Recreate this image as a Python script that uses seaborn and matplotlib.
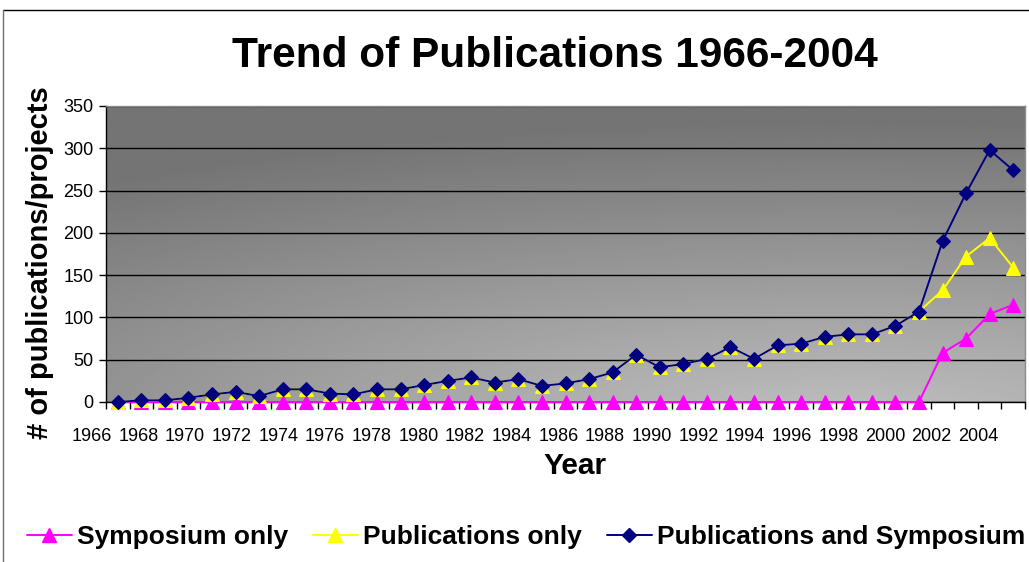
import numpy as np
import pandas as pd
import matplotlib
matplotlib.use("Agg")
import matplotlib.pyplot as plt
import seaborn as sns
from matplotlib.lines import Line2D
from matplotlib.transforms import blended_transform_factory

# ---------------- data ----------------
years = [1966, 1967, 1968, 1969, 1970, 1971, 1972, 1973, 1974, 1975,
         1976, 1977, 1978, 1979, 1980, 1981, 1982, 1983, 1984, 1985,
         1986, 1987, 1988, 1989, 1990, 1991, 1992, 1993, 1994, 1995,
         1996, 1997, 1998, 1999, 2000, 2001, 2002, 2003, 2004]

symposium_only = [0, 0, 0, 0, 0, 0, 0, 0, 0, 0,
                  0, 0, 0, 0, 0, 0, 0, 0, 0, 0,
                  0, 0, 0, 0, 0, 0, 0, 0, 0, 0,
                  0, 0, 0, 0, 0, 58, 75, 104, 115]

publications_only = [0, 2, 2, 5, 9, 12, 7, 15, 15, 10,
                     9, 15, 15, 20, 25, 29, 23, 27, 19, 22,
                     27, 35, 56, 41, 45, 51, 65, 51, 67, 69,
                     77, 80, 80, 90, 107, 132, 172, 194, 159]

pubs_and_symposium = [0, 2, 2, 5, 9, 12, 7, 15, 15, 10,
                      9, 15, 15, 20, 25, 29, 23, 27, 19, 22,
                      27, 35, 56, 41, 45, 51, 65, 51, 67, 69,
                      77, 80, 80, 90, 107, 190, 247, 298, 274]

tick_labels = ["1966", "1968", "1970", "1972", "1974", "1976", "1978",
               "1980", "1982", "1984", "1986", "1988", "1990", "1992",
               "1994", "1996", "1998", "2000", "2002", "2004"]

series_names = ["Symposium only", "Publications only",
                "Publications and Symposium"]
y_ticks = [0, 50, 100, 150, 200, 250, 300, 350]

# ---------------- style ----------------
sns.set_style("white")
plt.rcParams["font.family"] = ["Liberation Sans", "DejaVu Sans"]
plt.rcParams["text.color"] = "black"
plt.rcParams["axes.labelcolor"] = "black"
plt.rcParams["xtick.color"] = "black"
plt.rcParams["ytick.color"] = "black"

W, H = 1029, 562
fig = plt.figure(figsize=(W / 100, H / 100), dpi=100)
ax = fig.add_axes([106 / W, 1 - 402 / H, (1025 - 106) / W, (402 - 106) / H])

# gradient background of plot area
gx = np.linspace(0, 1, 300)
gy = np.linspace(1, 0, 200)
U, V = np.meshgrid(gx, gy)
r = np.sqrt(0.6 * (U - 0.8) ** 2 + (V + 0.1) ** 2)
grad = 0.76 - 0.29 * np.clip(r, 0, 1.05)
ax.imshow(grad, extent=[0, 1, 0, 1], transform=ax.transAxes, aspect="auto",
          cmap="gray", vmin=0, vmax=1, zorder=-10, interpolation="bilinear")

idx = list(range(len(years)))
df = pd.DataFrame({"idx": idx,
                   series_names[0]: symposium_only,
                   series_names[1]: publications_only,
                   series_names[2]: pubs_and_symposium})

colors = ["#FF00FF", "#FFFF00", "#000080"]
markers = ["^", "^", "D"]
msizes = [9.5, 9.5, 7.2]

for name, c, m, ms in zip(series_names, colors, markers, msizes):
    sns.lineplot(data=df, x="idx", y=name, color=c, marker=m, markersize=ms,
                 markeredgecolor=c, markeredgewidth=0.8, linewidth=1.4,
                 ax=ax, clip_on=False, zorder=3, legend=False)

ax.set_xlim(-0.5, len(years) - 0.5)
ax.set_ylim(0, 350)

# y axis
ax.set_yticks(y_ticks)
ax.set_yticklabels([str(v) for v in y_ticks])
ax.yaxis.grid(True, color="black", linewidth=1.0)
ax.set_axisbelow(True)
ax.tick_params(axis="y", direction="out", length=5, width=1, color="black",
               labelcolor="black", labelsize=13, pad=4, left=True)

# x axis: tick marks at category boundaries, labels as text
ax.set_xticks(np.arange(-0.5, len(years), 1.0))
ax.set_xticklabels([])
ax.tick_params(axis="x", direction="out", length=5, width=1, color="black",
               bottom=True)
ax.xaxis.grid(False)

label_start, label_step = -1.1, 1.98
trans = blended_transform_factory(ax.transData, ax.transAxes)
for k, lab in enumerate(tick_labels):
    ax.text(label_start + label_step * k, -0.118, lab, transform=trans,
            ha="center", va="center", fontsize=13, color="black", clip_on=False)

ax.set_xlabel("")
ax.set_ylabel("")

for s in ["left", "bottom"]:
    ax.spines[s].set_color("black")
    ax.spines[s].set_linewidth(1)
for s in ["top", "right"]:
    ax.spines[s].set_color("#8c8c8c")
    ax.spines[s].set_linewidth(1)

# titles / labels
fig.text(555 / W, 1 - 67 / H, "Trend of Publications 1966-2004",
         ha="center", va="baseline", fontsize=30.5, fontweight="bold",
         color="black")
fig.text(40 / W, 1 - 263 / H, "# of publications/projects", rotation=90,
         ha="center", va="center", fontsize=21, fontweight="bold",
         color="black")
fig.text(575 / W, 1 - 466 / H, "Year", ha="center", va="center",
         fontsize=21.5, fontweight="bold", color="black")

# legend
handles = [Line2D([0], [0], color=c, marker=m, markersize=ms,
                  markeredgecolor=c, linewidth=1.4)
           for c, m, ms in zip(colors, markers, msizes)]
leg = fig.legend(handles, series_names, loc="center", ncol=3,
                 bbox_to_anchor=(526 / W, 1 - 537 / H), frameon=False,
                 prop={"weight": "bold", "size": 19}, handlelength=1.7,
                 handletextpad=0.2, columnspacing=0.95)
for t in leg.get_texts():
    t.set_color("black")

# chart area border (top and left visible)
fig.add_artist(Line2D([3 / W, 1.0], [1 - 10 / H, 1 - 10 / H],
                      transform=fig.transFigure, color="black", linewidth=1))
fig.add_artist(Line2D([3 / W, 3 / W], [0, 1 - 10 / H],
                      transform=fig.transFigure, color="#707070", linewidth=1))

fig.savefig("out.png", dpi=100)
